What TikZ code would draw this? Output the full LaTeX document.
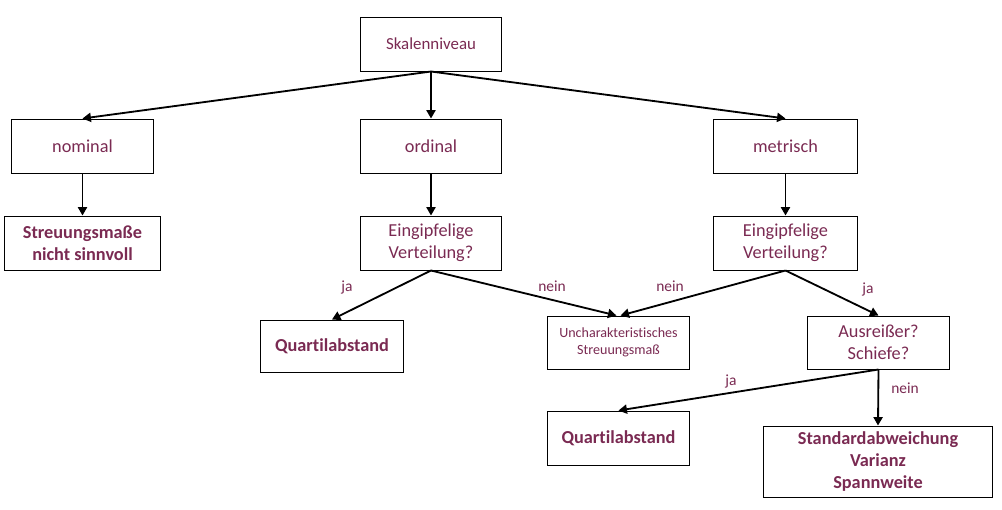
\documentclass[tikz,border=0pt]{standalone}
\usepackage{fontspec}
\setmainfont[Ligatures=NoCommon]{Carlito}
\usepackage{tikz}
\usetikzlibrary{positioning}
\usetikzlibrary{arrows.meta}
\usepackage{xcolor}
\definecolor{weinrot}{RGB}{122,42,82}

\begin{document}
\begin{tikzpicture}[x=0.025cm, y=-0.025cm,
			box/.style={draw=black, line width=0.7pt, align=center, text=weinrot, inner sep=0pt,
				minimum width=3.5cm, minimum height=1.35cm, font=\fontsize{13}{15.5}\selectfont},
			fett/.style={box, font=\fontsize{13}{15.5}\selectfont\bfseries},
			lbl/.style={text=weinrot, font=\fontsize{11}{13}\selectfont},
			pfeil/.style={line width=1.3pt, -{Triangle[length=6pt, width=6.5pt]}}]
			    		\useasboundingbox (0, 0) rectangle (1002, 509);
			    		% Ebene 1 und 2
			    		\node[box, font=\fontsize{12}{14}\selectfont] (skala) at (431, 44) {Skalenniveau};
			    		\node[box, minimum width=3.525cm] (nominal) at (82.5, 146) {nominal};
			    		\node[box] (ordinal) at (431, 146) {ordinal};
			    		\node[box, minimum width=3.575cm] (metrisch) at (785.5, 146) {metrisch};
			    		% Ebene 3
			    		\node[fett, minimum width=3.875cm] (keine) at (82.5, 243) {Streuungsmaße\\nicht sinnvoll};
			    		\node[box] (eingord) at (431, 243) {Eingipfelige\\Verteilung?};
			    		\node[box, minimum width=3.575cm] (eingmet) at (785.5, 243) {Eingipfelige\\Verteilung?};
			    		% Ebene 4
			    		\node[fett, minimum width=3.55cm, minimum height=1.3cm] (quartord) at (332, 346) {Quartilabstand};
			    		\node[box, minimum width=3.525cm, minimum height=1.325cm, font=\fontsize{10}{11.9}\selectfont] (unchar) at (618.5, 342.5) {Uncharakteristisches\\Streuungsmaß};
			    		\node[box, minimum width=3.525cm, minimum height=1.325cm] (ausreisser) at (878.5, 342.5) {Ausreißer?\\Schiefe?};
			    		% Ebene 5
			    		\node[fett, minimum width=3.525cm] (quartmet) at (618.5, 438) {Quartilabstand};
			    		\node[fett, minimum width=5.7cm, minimum height=1.775cm] (stdabw) at (878, 461.5) {Standardabweichung\\Varianz\\Spannweite};
			    		% Pfeile
			    		\draw[pfeil] (skala.south)--(nominal.north);
			    		\draw[pfeil] (skala.south)--(ordinal.north);
			    		\draw[pfeil] (skala.south)--(metrisch.north);
			    		\draw[pfeil] (nominal.south)--(keine.north);
			    		\draw[pfeil] (ordinal.south)--(eingord.north);
			    		\draw[pfeil] (metrisch.south)--(eingmet.north);
			    		\draw[pfeil] (eingord.south)--(quartord.north);
			    		\draw[pfeil] (eingord.south)--([xshift=-1.5pt]unchar.north);
			    		\draw[pfeil] (eingmet.south)--([xshift=1.5pt]unchar.north);
			    		\draw[pfeil] (eingmet.south)--(ausreisser.north);
			    		\draw[pfeil] (ausreisser.south)--(quartmet.north);
			    		\draw[pfeil] (ausreisser.south)--(stdabw.north);
			    		% Beschriftungen
			    		\node[lbl] (ja1) at (347, 287) {ja};
			    		\node[lbl] (nein1) at (552, 286) {nein};
			    		\node[lbl] (nein2) at (670, 286) {nein};
			    		\node[lbl] (ja2) at (868, 289) {ja};
			    		\node[lbl] (ja3) at (731, 381) {ja};
			    		\node[lbl] (nein3) at (905, 388) {nein};
			    	\end{tikzpicture}
\end{document}
